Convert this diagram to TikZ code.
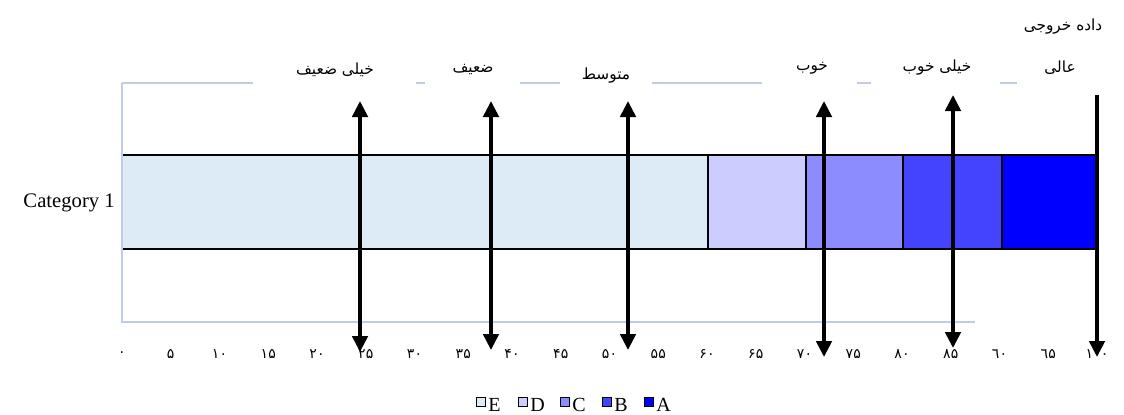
\documentclass[tikz,border=0pt]{standalone}
\usepackage{fontspec}
\setmainfont{Liberation Serif}
\newfontfamily\farsifont[Script=Arabic]{DejaVu Sans}
\TeXXeTstate=1
\usetikzlibrary{arrows.meta}
\usepackage{xcolor}

\definecolor{barE}{RGB}{221,235,246}
\definecolor{barD}{RGB}{204,204,255}
\definecolor{barC}{RGB}{140,140,255}
\definecolor{barB}{RGB}{68,68,255}
\definecolor{barA}{RGB}{0,0,255}
\definecolor{gridblue}{RGB}{190,205,228}

\tikzset{
  fa/.style={font=\farsifont\fontsize{11.5}{13}\selectfont, inner sep=0},
  axnum/.style={font=\farsifont\fontsize{10.5}{12}\selectfont, inner sep=0},
  plotframe/.style={draw=gridblue, line width=1.1pt},
  pointer/.style={line width=2.8pt, -{Triangle[length=12pt,width=11.5pt]}},
  dblpointer/.style={line width=2.8pt, {Triangle[length=12pt,width=11.5pt]}-{Triangle[length=12pt,width=11.5pt]}},
}

\begin{document}
\begin{tikzpicture}[x=0.75pt, y=-0.75pt]
\useasboundingbox (0,0) rectangle (1124,414);

\foreach \a/\b/\c in {122/708/barE, 708/806/barD, 806/903/barC, 903/1002/barB, 1002/1097/barA}
  \draw[fill=\c, line width=0.8pt] (\a,155) rectangle (\b,249);

\draw[plotframe] (122,83) -- (122,322) -- (975,322);
\foreach \a/\b in {122/253, 416/425, 520/560, 652/762, 857/871, 1000/1017}
  \draw[plotframe] (\a,83) -- (\b,83);

\node[inner sep=0, anchor=east, font=\fontsize{15.5}{18}\selectfont] (cat) at (115,203) {Category 1};

\foreach \v/\t in {0/۰, 5/۵, 10/۱۰, 15/۱۵, 20/۲۰, 25/۲۵, 30/۳۰, 35/۳۵, 40/۴۰, 45/۴۵, 50/۵۰, 55/۵۵, 60/۶۰, 65/۶۵, 70/۷۰, 75/۷۵, 80/۸۰, 85/۸۵, 90/٦۰, 95/٦۵, 100/۱۰۰}
  \node[axnum] (n\v) at (122+9.75*\v,354) {\t};

\node[fa] (out) at (1063,27) {\beginR داده خروجی\endR};
\node[fa] (vweak) at (335,70) {\beginR خیلی ضعیف\endR};
\node[fa] (weak) at (473,70) {\beginR ضعیف\endR};
\node[fa] (mid) at (606,76) {\beginR متوسط\endR};
\node[fa] (good) at (812,68) {\beginR خوب\endR};
\node[fa] (vgood) at (937,68) {\beginR خیلی خوب\endR};
\node[fa] (best) at (1060,68) {\beginR عالی\endR};

\coordinate (up1) at (360,101);  \coordinate (dn1) at (360,352);
\coordinate (up2) at (491,101);  \coordinate (dn2) at (491,350);
\coordinate (up3) at (628,101);  \coordinate (dn3) at (628,350);
\coordinate (up4) at (824,101);  \coordinate (dn4) at (824,357);
\coordinate (up5) at (953,95);   \coordinate (dn5) at (953,348);
\coordinate (up6) at (1097,95);  \coordinate (dn6) at (1097,357);

\draw[dblpointer] (dn1) -- (up1);
\draw[dblpointer] (dn2) -- (up2);
\draw[dblpointer] (dn3) -- (up3);
\draw[dblpointer] (dn4) -- (up4);
\draw[dblpointer] (dn5) -- (up5);
\draw[pointer] (up6) -- (dn6);

\foreach \l/\c [count=\i from 0] in {E/barE, D/barD, C/barC, B/barB, A/barA} {
  \draw[fill=\c, line width=0.6pt] (476+42*\i,397) rectangle ++(9,9);
  \node[anchor=base west, inner sep=0, font=\fontsize{15}{18}\selectfont] (key\l) at (488+42*\i,411) {\l};
}

\end{tikzpicture}
\end{document}
